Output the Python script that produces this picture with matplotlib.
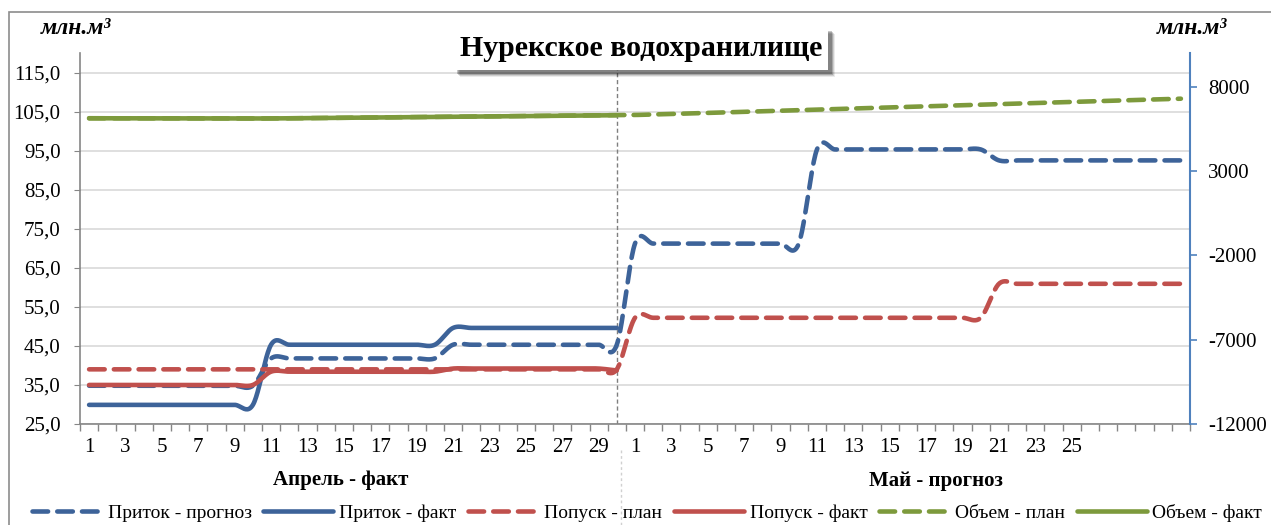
import numpy as np
import matplotlib
matplotlib.use("Agg")
import matplotlib.pyplot as plt
from matplotlib.lines import Line2D
from matplotlib.patches import Rectangle

plt.rcParams['font.family'] = ['Liberation Serif', 'DejaVu Serif']
plt.rcParams['axes.unicode_minus'] = False

W, H = 1271, 525

# days: April 1..30, May 1..31
days = list(range(1, 62))
april_labels = [str(d) if d % 2 == 1 else '' for d in range(1, 31)]
may_labels = [str(d) if (d % 2 == 1 and d <= 25) else '' for d in range(1, 32)]

# inflow / release, mln m3 (left axis)
inflow_fc = [34.8] * 10 + [41.8] * 10 + [45.3] * 10 + [71.2] * 10 + [95.3] * 10 + [92.5] * 11
inflow_fact = [29.9] * 10 + [45.3] * 10 + [49.6] * 10 + [np.nan] * 31
release_plan = [39.0] * 30 + [52.2] * 20 + [60.9] * 11
release_fact = [35.0] * 10 + [38.4] * 10 + [39.2] * 9 + [38.7] + [np.nan] * 31

# reservoir volume, mln m3 (right axis)
volume_apr = [6130, 6128, 6125, 6122, 6120, 6118, 6116, 6115, 6115, 6116,
              6120, 6128, 6138, 6148, 6158, 6168, 6178, 6188, 6198, 6208,
              6218, 6228, 6238, 6248, 6258, 6268, 6278, 6288, 6298, 6310]
volume_may = [6325, 6355, 6385, 6415, 6448, 6480, 6512, 6545, 6578, 6610,
              6642, 6675, 6708, 6740, 6772, 6805, 6838, 6870, 6902, 6935,
              6968, 7000, 7032, 7065, 7098, 7130, 7162, 7195, 7228, 7260, 7290]
volume_plan = volume_apr + volume_may
volume_fact = volume_apr + [np.nan] * 31

BLUE = '#3d6399'
RED = '#c0504d'
GREEN = '#7d9a3c'


def smooth(x, y, n=24):
    # bezier smoothing like a spreadsheet "smoothed line"
    x = np.asarray(x, float)
    y = np.asarray(y, float)
    ok = ~np.isnan(y)
    x, y = x[ok], y[ok]
    xs, ys = [], []
    t = np.linspace(0, 1, n)
    m = len(x)
    for i in range(m - 1):
        xp, yp = (x[i - 1], y[i - 1]) if i > 0 else (x[i], y[i])
        xn, yn = (x[i + 2], y[i + 2]) if i + 2 < m else (x[i + 1], y[i + 1])
        c1x = x[i] + (x[i + 1] - xp) / 6
        c1y = y[i] + (y[i + 1] - yp) / 6
        c2x = x[i + 1] - (xn - x[i]) / 6
        c2y = y[i + 1] - (yn - y[i]) / 6
        b0, b1, b2, b3 = (1 - t) ** 3, 3 * t * (1 - t) ** 2, 3 * t ** 2 * (1 - t), t ** 3
        xs.append(b0 * x[i] + b1 * c1x + b2 * c2x + b3 * x[i + 1])
        ys.append(b0 * y[i] + b1 * c1y + b2 * c2y + b3 * y[i + 1])
    return np.concatenate(xs), np.concatenate(ys)


fig = plt.figure(figsize=(W / 100, H / 100), dpi=100)
ax = fig.add_axes([80 / W, 1 - 424 / H, (1190 - 80) / W, (424 - 53) / H])
ax2 = ax.twinx()

dash = dict(linestyle=(0, (3.4, 2.0)), dash_capstyle='round')
solid = dict(linestyle='-', solid_capstyle='round')
lw = 3.3

series = [
    (ax, inflow_fc, BLUE, dash, 'Приток - прогноз'),
    (ax, inflow_fact, BLUE, solid, 'Приток - факт'),
    (ax, release_plan, RED, dash, 'Попуск - план'),
    (ax, release_fact, RED, solid, 'Попуск - факт'),
    (ax2, volume_plan, GREEN, dash, 'Объем - план'),
    (ax2, volume_fact, GREEN, solid, 'Объем - факт'),
]
handles = []
for a, vals, c, st, lab in series:
    sx, sy = smooth(days, vals)
    a.plot(sx, sy, color=c, lw=lw, **st)
    handles.append(Line2D([], [], color=c, lw=lw, label=lab, **st))

# left axis
ax.set_xlim(0.5, 61.5)
ax.set_ylim(25, 120)
yt = np.arange(25, 116, 10)
ax.set_yticks(yt)
ax.set_yticklabels([f'{v:.1f}'.replace('.', ',') for v in yt])
ax.grid(axis='y', color='#d9d9d9', lw=1.2)
ax.set_axisbelow(True)
ax.set_xticks(days)
ax.set_xticklabels(april_labels + may_labels)
ax.set_xticks(np.arange(0.5, 62, 1), minor=True)
ax.tick_params(axis='x', which='major', length=0, pad=10, labelsize=15)
ax.tick_params(axis='x', which='minor', length=5, color='#868686', width=1)
ax.tick_params(axis='y', length=4, color='#868686', pad=10, labelsize=15)
for s in ['top', 'right']:
    ax.spines[s].set_visible(False)
for s in ['left', 'bottom']:
    ax.spines[s].set_color('#868686')
    ax.spines[s].set_linewidth(1.2)

# right axis
ax2.set_ylim(-12000, 10000)
ax2.set_yticks([-12000, -7000, -2000, 3000, 8000])
ax2.tick_params(axis='y', length=5, color='#4f81bd', width=1.2, pad=8, labelsize=15)
for s in ['top', 'left', 'bottom']:
    ax2.spines[s].set_visible(False)
ax2.spines['right'].set_color('#4f81bd')
ax2.spines['right'].set_linewidth(1.5)

# split between April fact and May forecast
ax.axvline(30, color='#7f7f7f', lw=1, linestyle=(0, (3, 2)), zorder=1)
fig.add_artist(Line2D([621 / W, 621 / W], [1 - 450 / H, 0], color='#d0d0d0',
                      lw=1, linestyle=(0, (2, 2))))


def fx(x):
    return x / W


def fy(y):
    return 1 - y / H


# outer frame
fig.add_artist(Rectangle((fx(9), fy(560)), 2, fy(12) - fy(560), fill=False,
                         edgecolor='#8c8c8c', lw=1.2, transform=fig.transFigure))

# title box with soft shadow
for k, a in [(7, 0.08), (6, 0.12), (5, 0.18), (4, 0.22)]:
    fig.add_artist(Rectangle((fx(453 + k), fy(70 + k)), fx(375), fy(27) - fy(70),
                             facecolor='#000000', edgecolor='none', alpha=a,
                             transform=fig.transFigure, zorder=5))
fig.add_artist(Rectangle((fx(453), fy(70)), fx(375), fy(27) - fy(70),
                         facecolor='white', edgecolor='none',
                         transform=fig.transFigure, zorder=6))
fig.text(fx(641), fy(49), 'Нурекское водохранилище', ha='center', va='center',
         fontsize=21.5, fontweight='bold', zorder=7)

fig.text(fx(76), fy(29), 'млн.м³', ha='center', va='center', fontsize=17,
         fontweight='bold', style='italic')
fig.text(fx(1192), fy(29), 'млн.м³', ha='center', va='center', fontsize=17,
         fontweight='bold', style='italic')

fig.text(fx(341), fy(480), 'Апрель - факт', ha='center', va='center', fontsize=15,
         fontweight='bold')
fig.text(fx(936), fy(481), 'Май - прогноз', ha='center', va='center', fontsize=15,
         fontweight='bold')

fig.legend(handles=handles, ncol=6, loc='center', mode='expand',
           bbox_to_anchor=(fx(24), fy(524), fx(1246), fy(502) - fy(524)),
           frameon=False, fontsize=14, handlelength=3.6, handletextpad=0.3,
           borderaxespad=0)

fig.savefig('out.png', dpi=100)
